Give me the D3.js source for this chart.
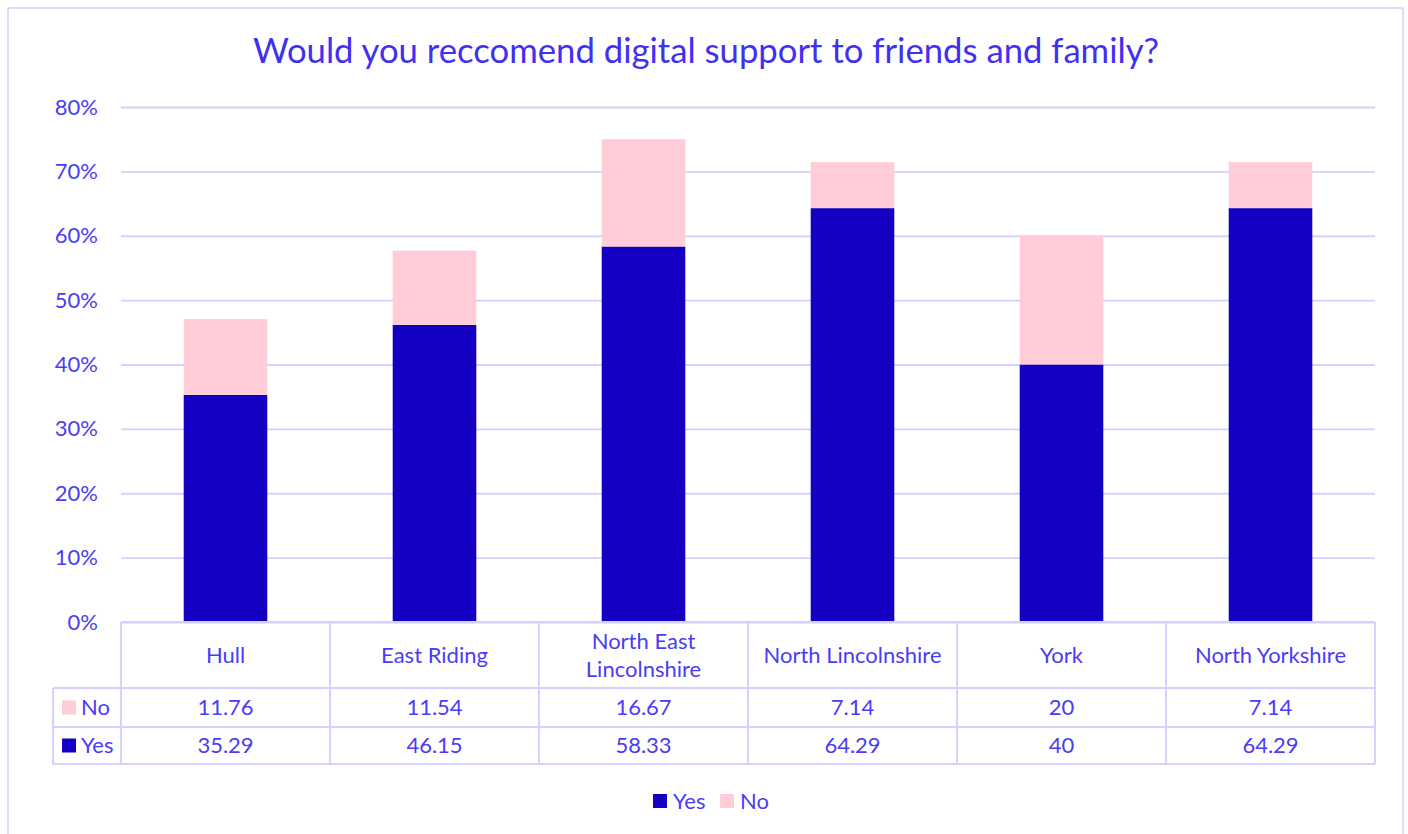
<!DOCTYPE html>
<html>
<head>
<meta charset="utf-8">
<script src="https://cdn.jsdelivr.net/npm/d3@7"></script>
<style>
  html, body { margin: 0; padding: 0; background: #ffffff; }
  svg { display: block; }
  text { font-family: Lato, "Open Sans", sans-serif; }
</style>
</head>
<body>
<svg id="chart" width="1408" height="834"></svg>
<script>
// Survey answers per area, in percent
const categories = ["Hull", "East Riding", "North East Lincolnshire", "North Lincolnshire", "York", "North Yorkshire"];
const categoryLines = [["Hull"], ["East Riding"], ["North East", "Lincolnshire"], ["North Lincolnshire"], ["York"], ["North Yorkshire"]];
const yesValues = [35.29, 46.15, 58.33, 64.29, 40, 64.29];
const noValues = [11.76, 11.54, 16.67, 7.14, 20, 7.14];
const seriesNames = ["Yes", "No"];
const yTicks = [0, 10, 20, 30, 40, 50, 60, 70, 80];
const titleText = "Would you reccomend digital support to friends and family?";

const colors = { Yes: "#1400c2", No: "#ffccd8" };
const textColor = "#4a3cf6";
const titleColor = "#3f30f2";
const lineColor = "#d4d0ff";
const labelSize = "22px";

const svg = d3.select("#chart");

const plot = { left: 121, right: 1375, top: 107, bottom: 622 };
const rowTop = 622, rowNo = 688, rowYes = 727, rowEnd = 764, keyLeft = 53;

// Chart frame
svg.append("rect")
  .attr("x", 8).attr("y", 8)
  .attr("width", 1395).attr("height", 860)
  .attr("fill", "#ffffff")
  .attr("stroke", lineColor).attr("stroke-width", 1.5);

// Title
svg.append("text")
  .attr("x", 706).attr("y", 63)
  .attr("text-anchor", "middle")
  .attr("fill", titleColor)
  .style("font-size", "34.7px")
  .text(titleText);

const y = d3.scaleLinear().domain([0, 80]).range([plot.bottom, plot.top]);
const x = d3.scaleBand().domain(categories).range([plot.left, plot.right])
  .paddingInner(0.6).paddingOuter(0.3);
const col = d3.scaleBand().domain(categories).range([plot.left, plot.right]);

// Gridlines and percent labels
const yAxis = d3.axisLeft(y)
  .tickValues(yTicks)
  .tickFormat(d => d + "%")
  .tickSize(-(plot.right - plot.left))
  .tickPadding(23);
const gy = svg.append("g")
  .attr("transform", `translate(${plot.left},0)`)
  .call(yAxis);
gy.select(".domain").remove();
gy.selectAll(".tick line").attr("stroke", lineColor).attr("stroke-width", 1.8);
gy.selectAll(".tick text")
  .attr("fill", textColor)
  .style("font-size", labelSize)
  .style("font-family", "Lato, 'Open Sans', sans-serif");

// Stacked bars
const rows = categories.map((c, i) => ({ category: c, Yes: yesValues[i], No: noValues[i] }));
const stacked = d3.stack().keys(seriesNames)(rows);
svg.append("g").selectAll("g")
  .data(stacked)
  .join("g")
  .attr("fill", d => colors[d.key])
  .selectAll("rect")
  .data(d => d)
  .join("rect")
  .attr("x", d => x(d.data.category))
  .attr("width", x.bandwidth())
  .attr("y", d => y(d[1]))
  .attr("height", d => y(d[0]) - y(d[1]));

// Data table below the plot
const table = svg.append("g")
  .attr("fill", "none")
  .attr("stroke", lineColor)
  .attr("stroke-width", 2);
table.append("line").attr("x1", plot.left).attr("x2", plot.right).attr("y1", rowTop).attr("y2", rowTop);
[rowNo, rowYes, rowEnd].forEach(yy => {
  table.append("line").attr("x1", keyLeft).attr("x2", plot.right).attr("y1", yy).attr("y2", yy);
});
table.append("line").attr("x1", keyLeft).attr("x2", keyLeft).attr("y1", rowNo).attr("y2", rowEnd);
categories.forEach(c => {
  table.append("line").attr("x1", col(c)).attr("x2", col(c)).attr("y1", rowTop).attr("y2", rowEnd);
});
table.append("line").attr("x1", plot.right).attr("x2", plot.right).attr("y1", rowTop).attr("y2", rowEnd);

// Category headers
const headers = svg.append("g").attr("fill", textColor).style("font-size", labelSize);
categories.forEach((c, i) => {
  const lines = categoryLines[i];
  const cx = col(c) + col.bandwidth() / 2;
  const mid = (rowTop + rowNo) / 2;
  const lh = 28;
  lines.forEach((ln, j) => {
    headers.append("text")
      .attr("x", cx)
      .attr("y", mid + (j - (lines.length - 1) / 2) * lh)
      .attr("dy", "0.35em")
      .attr("text-anchor", "middle")
      .text(ln);
  });
});

// Table rows with legend keys
const tableRows = [
  { name: "No", values: noValues, top: rowNo, bottom: rowYes },
  { name: "Yes", values: yesValues, top: rowYes, bottom: rowEnd }
];
tableRows.forEach(r => {
  const mid = (r.top + r.bottom) / 2;
  svg.append("rect")
    .attr("x", 62).attr("y", mid - 7)
    .attr("width", 14).attr("height", 14)
    .attr("fill", colors[r.name]);
  svg.append("text")
    .attr("x", 81).attr("y", mid)
    .attr("dy", "0.35em")
    .attr("fill", textColor)
    .style("font-size", labelSize)
    .text(r.name);
  categories.forEach((c, i) => {
    svg.append("text")
      .attr("x", col(c) + col.bandwidth() / 2)
      .attr("y", mid)
      .attr("dy", "0.35em")
      .attr("text-anchor", "middle")
      .attr("fill", textColor)
      .style("font-size", labelSize)
      .text(String(r.values[i]));
  });
});

// Legend
const legend = svg.append("g").attr("transform", "translate(653,801)");
const legendItems = [{ name: "Yes", dx: 0 }, { name: "No", dx: 67 }];
legendItems.forEach(it => {
  legend.append("rect")
    .attr("x", it.dx).attr("y", -7)
    .attr("width", 14).attr("height", 14)
    .attr("fill", colors[it.name]);
  legend.append("text")
    .attr("x", it.dx + 20).attr("y", 0)
    .attr("dy", "0.35em")
    .attr("fill", textColor)
    .style("font-size", labelSize)
    .text(it.name);
});
</script>
</body>
</html>
